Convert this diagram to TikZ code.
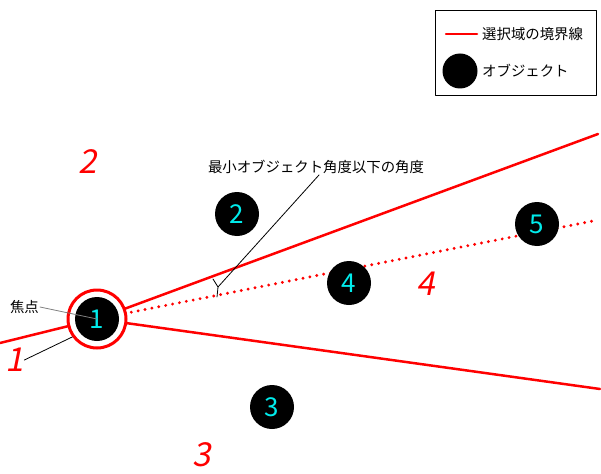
\documentclass[tikz,border=0pt]{standalone}
\usepackage{fontspec}
\setmainfont{Noto Sans CJK JP}
\newfontfamily\slantfont{Noto Sans CJK JP}[FakeSlant=0.2]
\usetikzlibrary{positioning}
\definecolor{selred}{RGB}{255,0,0}
\definecolor{numcyan}{RGB}{0,235,235}

\begin{document}
\begin{tikzpicture}[x=1pt,y=-1pt,line cap=round,line join=round,
  obj/.style={circle,fill=black,minimum size=44pt,inner sep=0pt,text=numcyan,font=\fontsize{26}{26}\selectfont},
  bound/.style={selred,line width=2.5pt},
  region/.style={text=selred,inner sep=0pt,font=\slantfont\fontsize{33}{33}\selectfont},
  note/.style={inner sep=1pt,font=\fontsize{14.4}{14.4}\selectfont},
  leader/.style={line width=0.8pt}]
\useasboundingbox (0,0) rectangle (601,473);
% focus and boundary lines
\coordinate (focus) at (97,319);
\draw[bound] (0,343) -- (focus);
\draw[bound] (focus) -- (598,134);
\draw[bound] (focus) -- (600,389);
\draw[selred,line width=3.2pt,dash pattern=on 0pt off 7pt] (focus) -- (598,220);
% ring round the focus object
\node[circle,draw=selred,line width=3pt,fill=white,minimum size=58pt,inner sep=0pt] (ring) at (focus) {};
% objects
\node[obj] (obj1) at (focus) {1};
\node[obj] (obj2) at (237,214) {2};
\node[obj] (obj3) at (272,407) {3};
\node[obj] (obj4) at (349,283) {4};
\node[obj] (obj5) at (537,224) {5};
% regions
\node[region] (r1) at (15,360) {1};
\node[region] (r2) at (88,162) {2};
\node[region] (r3) at (202,455) {3};
\node[region] (r4) at (426,284) {4};
% angle mark
\coordinate (angtip) at (218,287);
\draw[leader] (213,279) -- (angtip) -- (217,297);
\node[note] (minang) at (316,167) {最小オブジェクト角度以下の角度};
\draw[leader] (angtip) -- ([xshift=3pt]minang.south);
% focus label
\node[note,anchor=east] (foclbl) at (40,307) {焦点};
\draw[gray,leader] (foclbl.east) -- (obj1.center);
\draw[leader] (r1.east) -- (ring.216);
% legend
\draw[leader] (435,10) rectangle (596,95);
\coordinate (legline) at (446,34);
\draw[bound] (legline) -- ++(31,0);
\node[note,anchor=west] (legbound) at (481,34) {選択域の境界線};
\node[circle,fill=black,minimum size=35pt,inner sep=0pt] (legobj) at (460,71) {};
\node[note,anchor=west] (legobjtxt) at (481,71) {オブジェクト};
\end{tikzpicture}
\end{document}
